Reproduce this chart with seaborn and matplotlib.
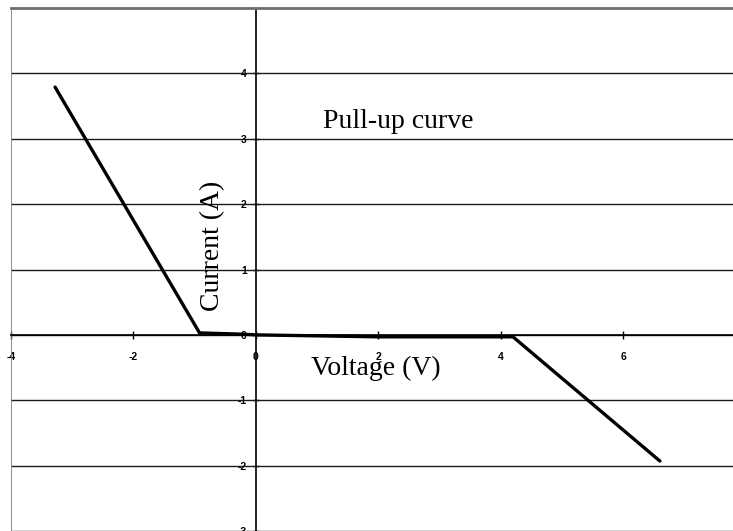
import matplotlib
matplotlib.use("Agg")
import matplotlib.pyplot as plt
import seaborn as sns
import pandas as pd

# Pull-up I-V characteristic
voltage = [-3.28, -0.92, -0.2, 0.0, 2.0, 4.2, 6.6]
current = [3.79, 0.03, 0.01, 0.0, -0.03, -0.03, -1.93]

x_ticks = [-4, -2, 0, 2, 4, 6]
y_ticks = [-3, -2, -1, 0, 1, 2, 3, 4]

sns.set_theme(style="white")
plt.rcParams["font.family"] = ["Liberation Sans", "DejaVu Sans"]
plt.rcParams["text.color"] = "black"
plt.rcParams["xtick.color"] = "black"
plt.rcParams["ytick.color"] = "black"

W, H = 733, 531
fig = plt.figure(figsize=(W / 100, H / 100), dpi=100)

# plot area: x from -4 (px 11) to 8 (px 745.6), y from -3 (px 531) to 5 (px 8)
ax = fig.add_axes([11 / W, 0.0, (745.6 - 11) / W, (531 - 8) / H])
ax.set_xlim(-4, 8)
ax.set_ylim(-3, 5)

df = pd.DataFrame({"Voltage": voltage, "Current": current})
sns.lineplot(data=df, x="Voltage", y="Current", sort=False, ax=ax,
             color="black", linewidth=2.4, estimator=None, zorder=5)

# horizontal gridlines
for yv in y_ticks:
    ax.axhline(yv, color="#1a1a1a", linewidth=1.0, zorder=1)

# outer frame
for s in ["top", "right"]:
    ax.spines[s].set_color("#6e6e6e")
    ax.spines[s].set_linewidth(2.0)
ax.axvline(-4, color="#7a7a7a", linewidth=1.2, zorder=1)

# axes crossing at the origin
ax.spines["left"].set_position(("data", 0))
ax.spines["bottom"].set_position(("data", 0))
for s in ["left", "bottom"]:
    ax.spines[s].set_color("black")
    ax.spines[s].set_linewidth(1.2)
    ax.spines[s].set_zorder(2)

ax.set_xticks(x_ticks)
ax.set_yticks(y_ticks)
ax.set_xticklabels([str(v) for v in x_ticks])
ax.set_yticklabels([str(v) for v in y_ticks])
ax.tick_params(axis="x", direction="inout", length=6, width=1, color="black",
               labelcolor="black", labelsize=7.5, pad=9, bottom=True)
ax.tick_params(axis="y", direction="inout", length=5, width=1, color="black",
               labelcolor="black", labelsize=7.5, pad=4, left=True)
for lab in ax.get_xticklabels() + ax.get_yticklabels():
    lab.set_fontweight("bold")

ax.set_xlabel("")
ax.set_ylabel("")

serif = ["Liberation Serif", "DejaVu Serif"]
fig.text(376 / W, 1 - 368 / H, "Voltage (V)", family=serif, fontsize=20,
         ha="center", va="center", color="black")
fig.text(213 / W, 1 - 246 / H, "Current (A)", family=serif, fontsize=20,
         ha="center", va="center", rotation=90, color="black")
fig.text(398 / W, 1 - 122 / H, "Pull-up curve", family=serif, fontsize=20,
         ha="center", va="center", color="black")

fig.savefig("out.png", dpi=100)
